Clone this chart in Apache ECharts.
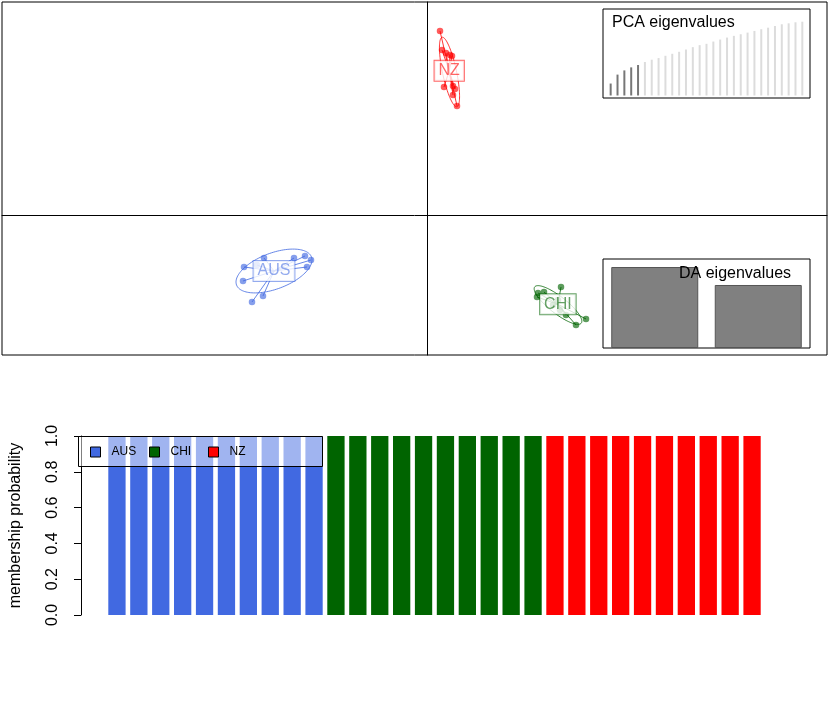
<!DOCTYPE html>
<html>
<head>
<meta charset="utf-8">
<script src="https://cdn.jsdelivr.net/npm/echarts@6/dist/echarts.min.js"></script>
<style>
html,body{margin:0;padding:0;background:#fff;}
#chart{width:829px;height:715px;}
</style>
</head>
<body>
<div id="chart"></div>
<script>
// ---------- DATA ----------
const groups = ['AUS', 'CHI', 'NZ'];
// discriminant function coordinates (LD1, LD2) per individual
const ausLD = [[-1.83,-0.52],[-1.84,-0.66],[-1.63,-0.43],[-1.33,-0.43],[-1.22,-0.41],[-1.16,-0.45],[-1.20,-0.52],[-1.64,-0.81],[-1.75,-0.87],[-1.70,-0.50]];
const chiLD = [[1.10,-0.82],[1.11,-0.78],[1.17,-0.77],[1.34,-0.72],[1.39,-1.00],[1.49,-1.10],[1.59,-1.04],[1.26,-0.90],[1.33,-0.95],[1.31,-0.85]];
const nzLD  = [[0.13,1.84],[0.15,1.65],[0.19,1.62],[0.23,1.60],[0.25,1.59],[0.17,1.28],[0.26,1.29],[0.28,1.26],[0.26,1.20],[0.30,1.09]];
// inertia ellipses: [centerX, centerY, semiMajor, semiMinor, angleDeg]
const ausEllipse = [-1.53, -0.56, 0.40, 0.18, 20.5];
const chiEllipse = [1.31, -0.90, 0.295, 0.085, -38];
const nzEllipse  = [0.225, 1.43, 0.355, 0.07, 102];
// PCA eigenvalues (cumulative, scaled) and retained count
const pcaCumEig = [0.162,0.283,0.340,0.381,0.413,0.454,0.485,0.507,0.538,0.565,0.592,0.623,0.655,0.682,0.700,0.731,0.758,0.785,0.808,0.830,0.852,0.875,0.898,0.919,0.942,0.965,0.978,0.992,1.000];
const pcaRetained = 5;
// DA eigenvalues (relative)
const daLabels = ['LD1', 'LD2'];
const daEig = [1.0, 0.778];
// compoplot: individuals and membership probabilities
const individuals = ['A1','A2','A3','A4','A5','A6','A7','A8','A9','A10','C1','C2','C3','C4','C5','C6','C7','C8','C9','C10','N1','N2','N3','N4','N5','N6','N7','N8','N9','N10'];
const memAUS = [1,1,1,1,1,1,1,1,1,1,0,0,0,0,0,0,0,0,0,0,0,0,0,0,0,0,0,0,0,0];
const memCHI = [0,0,0,0,0,0,0,0,0,0,1,1,1,1,1,1,1,1,1,1,0,0,0,0,0,0,0,0,0,0];
const memNZ  = [0,0,0,0,0,0,0,0,0,0,0,0,0,0,0,0,0,0,0,0,1,1,1,1,1,1,1,1,1,1];
const yTicks = [0, 0.2, 0.4, 0.6, 0.8, 1.0];

// ---------- STYLE ----------
const colors = ['#4169E1', '#006400', '#FF0000'];
const colorsT = ['rgba(65,105,225,0.8)', 'rgba(0,100,0,0.8)', 'rgba(255,0,0,0.8)'];
const labelT = ['rgba(65,105,225,0.7)', 'rgba(0,100,0,0.75)', 'rgba(255,0,0,0.75)'];
const FONT = 'Liberation Sans, Arial, sans-serif';
const legendLefts = [90, 149, 208];

const ldSets = [ausLD, chiLD, nzLD];
const ellipses = [ausEllipse, chiEllipse, nzEllipse];
function mean(pts) {
  let sx = 0, sy = 0;
  pts.forEach(p => { sx += p[0]; sy += p[1]; });
  return [sx / pts.length, sy / pts.length];
}
const centroids = ldSets.map(mean);

const series = [];
groups.forEach((g, i) => {
  // ellipse
  series.push({
    type: 'custom', xAxisIndex: 0, yAxisIndex: 0, z: 3, silent: true,
    data: [ellipses[i]],
    encode: { x: 0, y: 1 },
    renderItem: function (params, api) {
      const cx = api.value(0), cy = api.value(1), a = api.value(2), b = api.value(3);
      const th = api.value(4) * Math.PI / 180;
      const pts = [];
      for (let k = 0; k <= 120; k++) {
        const t = k / 120 * 2 * Math.PI;
        const x = cx + a * Math.cos(t) * Math.cos(th) - b * Math.sin(t) * Math.sin(th);
        const y = cy + a * Math.cos(t) * Math.sin(th) + b * Math.sin(t) * Math.cos(th);
        pts.push(api.coord([x, y]));
      }
      return { type: 'polygon', shape: { points: pts }, style: { fill: 'none', stroke: colorsT[i], lineWidth: 1 } };
    }
  });
  // star lines from centroid
  series.push({
    type: 'lines', coordinateSystem: 'cartesian2d', xAxisIndex: 0, yAxisIndex: 0, z: 3, silent: true,
    lineStyle: { color: colorsT[i], width: 1, opacity: 1 },
    data: ldSets[i].map(p => ({ coords: [centroids[i], p] }))
  });
  // points
  series.push({
    type: 'scatter', xAxisIndex: 0, yAxisIndex: 0, z: 4, silent: true,
    symbolSize: 6.5, itemStyle: { color: colorsT[i] },
    data: ldSets[i]
  });
  // group label
  series.push({
    type: 'scatter', xAxisIndex: 0, yAxisIndex: 0, z: 6, silent: true,
    symbolSize: 0, data: [centroids[i]],
    label: {
      show: true, position: 'inside', formatter: g,
      fontFamily: FONT, fontSize: 16, color: labelT[i],
      backgroundColor: '#fff', borderColor: labelT[i], borderWidth: 1,
      padding: [3, 4, 1, 4]
    }
  });
});

// PCA eigenvalues inset
series.push({
  type: 'bar', xAxisIndex: 1, yAxisIndex: 1, barWidth: 2, silent: true, z: 5,
  data: pcaCumEig.map((v, k) => ({ value: [k + 1, v], itemStyle: { color: k < pcaRetained ? '#777777' : '#dcdcdc' } }))
});
// DA eigenvalues inset
series.push({
  type: 'bar', xAxisIndex: 2, yAxisIndex: 2, barWidth: 87, silent: true, z: 5,
  itemStyle: { color: '#808080', borderColor: '#555555', borderWidth: 1 },
  data: daEig
});
// compoplot
[memAUS, memCHI, memNZ].forEach((m, i) => {
  series.push({
    type: 'bar', name: groups[i], stack: 'member', xAxisIndex: 3, yAxisIndex: 3,
    barWidth: 17.3, silent: true, itemStyle: { color: colors[i] },
    data: m
  });
});

const hiddenAxis = { show: true, axisLine: { show: false }, axisTick: { show: false }, axisLabel: { show: false }, splitLine: { show: false } };

const option = {
  animation: false,
  backgroundColor: '#fff',
  title: [
    { text: 'PCA eigenvalues', left: 612, top: 15, padding: 0, textStyle: { fontFamily: FONT, fontSize: 16, fontWeight: 'normal', color: '#000' } },
    { text: 'DA eigenvalues', left: 679, top: 266, padding: 0, textStyle: { fontFamily: FONT, fontSize: 16, fontWeight: 'normal', color: '#000' } }
  ],
  legend: groups.map((g, i) => ({
    data: [g], left: legendLefts[i], top: 446, z: 20, padding: 0,
    icon: 'rect', itemWidth: 10, itemHeight: 10,
    itemStyle: { borderColor: '#000', borderWidth: 1 },
    textStyle: { fontFamily: FONT, fontSize: 12, color: '#000', padding: [0, 0, 0, 6] },
    selectedMode: false
  })),
  graphic: [
    { type: 'rect', z: 10, shape: { x: 78.5, y: 436.5, width: 244, height: 30 }, style: { fill: 'rgba(255,255,255,0.5)', stroke: '#000', lineWidth: 1 } }
  ],
  grid: [
    { left: 2, top: 2, width: 825, height: 353, show: true, borderColor: '#000', borderWidth: 1, backgroundColor: 'transparent' },
    { left: 603, top: 9, width: 207, height: 89, show: true, borderColor: '#000', borderWidth: 1, backgroundColor: '#fff', z: 4 },
    { left: 603, top: 259, width: 207, height: 89, show: true, borderColor: '#000', borderWidth: 1, backgroundColor: '#fff', z: 4 },
    { left: 103, top: 436, width: 660, height: 179, show: false }
  ],
  xAxis: [
    { gridIndex: 0, type: 'value', min: -4.25, max: 4.0, axisLine: { show: true, onZero: true, lineStyle: { color: '#000', width: 1 } }, axisTick: { show: false }, axisLabel: { show: false }, splitLine: { show: false } },
    Object.assign({ gridIndex: 1, type: 'value', min: -0.12, max: 30.12 }, hiddenAxis),
    Object.assign({ gridIndex: 2, type: 'category', data: daLabels }, hiddenAxis),
    Object.assign({ gridIndex: 3, type: 'category', data: individuals }, hiddenAxis)
  ],
  yAxis: [
    { gridIndex: 0, type: 'value', min: -1.40, max: 2.13, axisLine: { show: true, onZero: true, lineStyle: { color: '#000', width: 1 } }, axisTick: { show: false }, axisLabel: { show: false }, splitLine: { show: false } },
    Object.assign({ gridIndex: 1, type: 'value', min: -0.034, max: 1.172 }, hiddenAxis),
    Object.assign({ gridIndex: 2, type: 'value', min: 0, max: 1.099 }, hiddenAxis),
    {
      gridIndex: 3, type: 'value', min: 0, max: 1, interval: 0.2, offset: 25,
      name: 'membership probability', nameLocation: 'middle', nameRotate: 90, nameGap: 57,
      nameTextStyle: { fontFamily: FONT, fontSize: 16, color: '#000' },
      axisLine: { show: true, lineStyle: { color: '#000', width: 1 } },
      axisTick: { show: true, length: 7, lineStyle: { color: '#000' } },
      axisLabel: { show: true, rotate: 90, margin: 20, fontFamily: FONT, fontSize: 16, color: '#000',
        formatter: v => yTicks.indexOf(+v.toFixed(1)) >= 0 ? v.toFixed(1) : '' },
      splitLine: { show: false }
    }
  ],
  series: series
};

const chart = echarts.init(document.getElementById('chart'), null, { renderer: 'canvas' });
chart.setOption(option);
</script>
</body>
</html>
